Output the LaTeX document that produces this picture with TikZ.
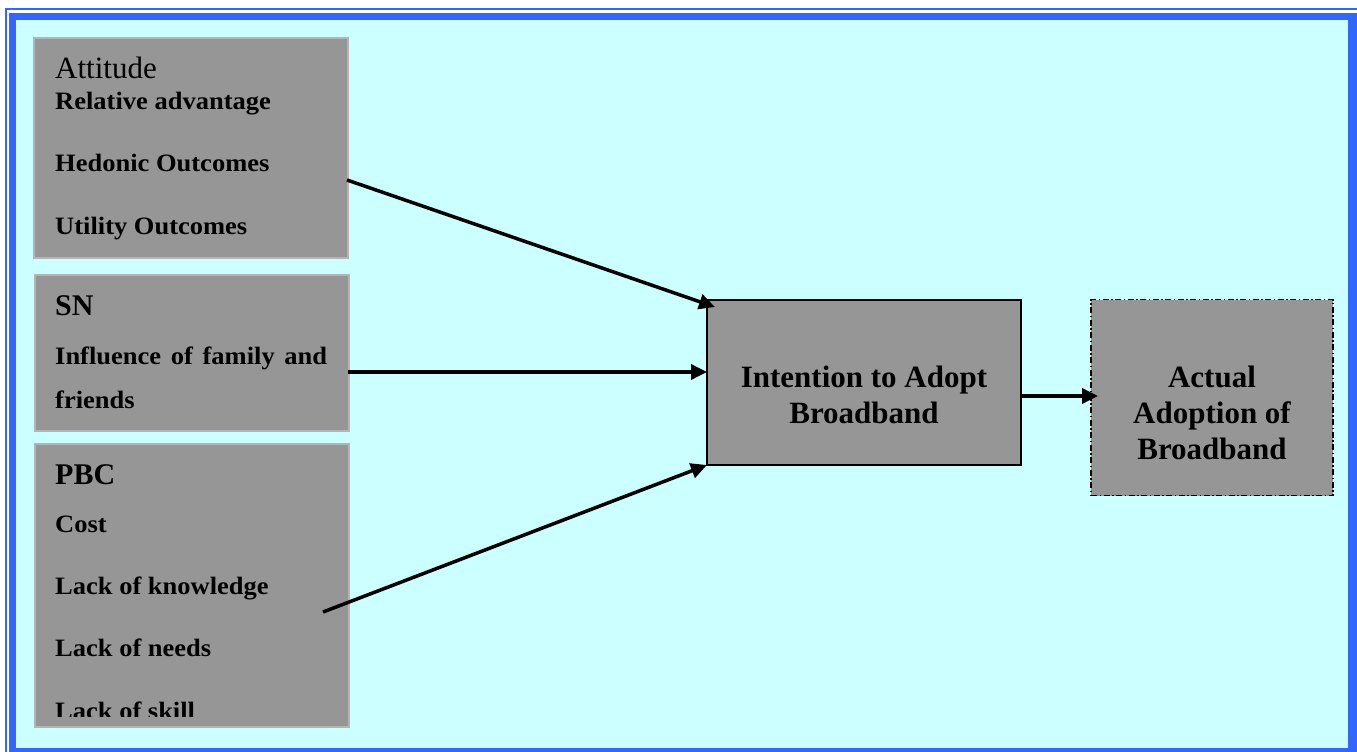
\documentclass[tikz,border=0pt]{standalone}
\usepackage{fontspec}
\setmainfont{Liberation Serif}
\newfontfamily\listfont[FakeStretch=1.06]{Liberation Serif}
\usetikzlibrary{arrows.meta}
\definecolor{frameblue}{HTML}{3366FF}
\definecolor{panel}{HTML}{CCFFFF}
\definecolor{boxgray}{HTML}{969696}
\definecolor{edgegray}{HTML}{B4B4B4}

\begin{document}
\begin{tikzpicture}[x=1pt, y=-1pt,
  factor/.style = {draw=edgegray, line width=2pt, fill=boxgray, anchor=north west, inner sep=0pt, outer sep=0pt},
  stage/.style = {draw=black, line width=2pt, fill=boxgray, inner sep=0pt, outer sep=0pt},
  head/.style = {anchor=base west, inner sep=0pt, font=\fontsize{30}{36}\selectfont\bfseries},
  item/.style = {anchor=base west, inner sep=0pt, font=\listfont\fontsize{25}{30}\selectfont\bfseries},
  title/.style = {align=center, inner sep=0pt, font=\fontsize{31}{36}\selectfont\bfseries},
  link/.style = {line width=3.5pt, -{Triangle[length=16pt,width=15pt]}}]
\clip (0,0) rectangle (1357,752);
% frame
\fill[white] (0,0) rectangle (1357,752);
\draw[frameblue, line width=2pt] (6,9) rectangle (1380,780);
\fill[frameblue] (9,13) rectangle (1380,780);
\fill[panel] (16,20) rectangle (1348,748);

% factor boxes
\node[factor, minimum width=314pt, minimum height=220pt] (att) at (34,38) {};
\node[factor, minimum width=314pt, minimum height=156pt] (sn) at (35,275) {};
\node[factor, minimum width=314pt, minimum height=283pt] (pbc) at (35,444) {};

\node[anchor=base west, inner sep=0pt, font=\fontsize{31}{36}\selectfont] (atthead) at (55,78) {Attitude};
\node[item] (rel) at (55,110) {Relative advantage};
\node[item] (hed) at (55,171) {Hedonic Outcomes};
\node[item] (util) at (55,234) {Utility Outcomes};

\node[head] (snhead) at (55,315) {SN};
\node[item] (infl) at (55,364) {\makebox[272pt][s]{Influence of family and}};
\node[item] (frnd) at (55,408) {friends};

\node[head] (pbchead) at (55,484) {PBC};
\node[item] (cost) at (55,532) {Cost};
\node[item] (know) at (55,594) {Lack of knowledge};
\node[item] (need) at (55,656) {Lack of needs};
\begin{scope}
  \clip (35,444) rectangle (349,716);
  \node[item] (skill) at (55,719) {Lack of skill};
\end{scope}

% outcome boxes
\node[stage, minimum width=314pt, minimum height=165pt] (int) at (864,382.5) {};
\node[title] (intlbl) at (864,394.5) {Intention to Adopt\\Broadband};
\node[stage, draw=black, line width=1.5pt, dash pattern=on 6pt off 2.5pt on 1.5pt off 2.5pt,
      minimum width=242pt, minimum height=196pt] (act) at (1212,397.5) {};
\node[title] (actlbl) at (1212,413) {Actual\\Adoption of\\Broadband};

% links
\coordinate (attout) at (347,180);
\coordinate (snout) at (348,372);
\coordinate (pbcout) at (323,612);
\coordinate (intout) at (1021,396);
\draw[link] (attout) -- ([shift={(8,7)}]int.north west);
\draw[link] (snout) -- (snout -| int.west);
\draw[link] (pbcout) -- (int.south west);
\draw[link] (intout) -- ([xshift=7pt]intout -| act.west);
\end{tikzpicture}
\end{document}
